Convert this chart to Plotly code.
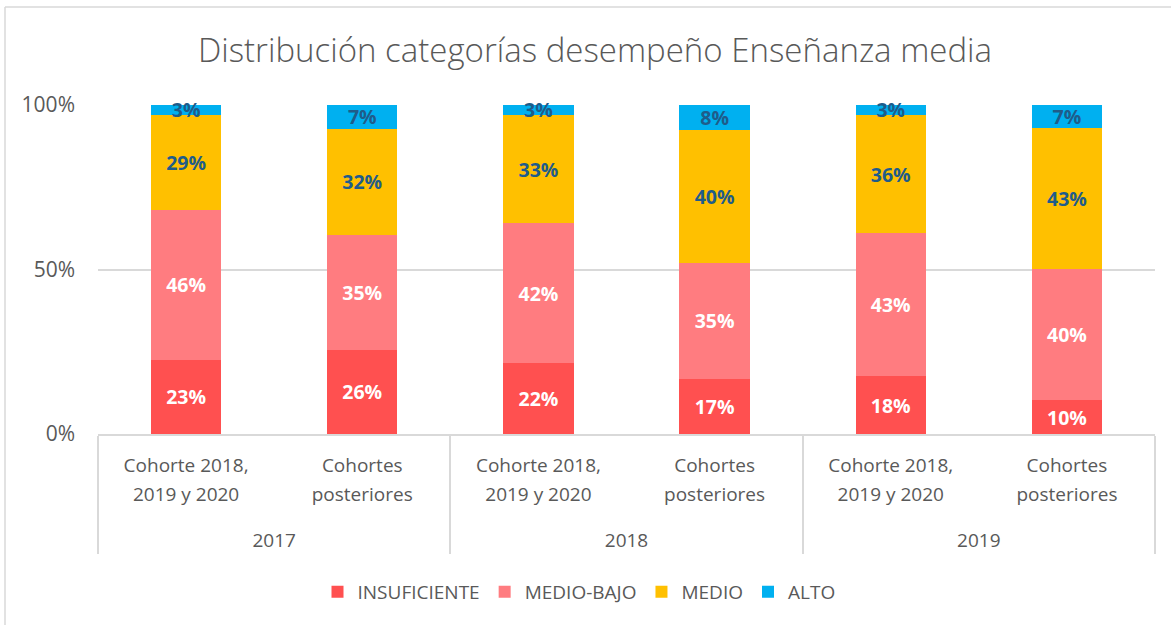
import plotly.graph_objects as go

years = ["2017", "2017", "2018", "2018", "2019", "2019"]
cohort_a = "Cohorte 2018,<br>2019 y 2020"
cohort_b = "Cohortes<br>posteriores"
cohorts = [cohort_a, cohort_b] * 3

insuficiente = [22.6, 25.6, 21.6, 16.7, 17.6, 10.3]
medio_bajo = [45.6, 34.8, 42.4, 35.4, 43.4, 39.9]
medio = [28.8, 32.4, 33.0, 40.3, 36.0, 42.8]
alto = [3.0, 7.2, 3.0, 7.6, 3.0, 7.0]

series = [
    ("INSUFICIENTE", insuficiente, "#FF5050", "white"),
    ("MEDIO-BAJO", medio_bajo, "#FF7C80", "white"),
    ("MEDIO", medio, "#FFC000", "#1F5C8A"),
    ("ALTO", alto, "#00B0F0", "#1F5C8A"),
]

FONT = "Open Sans"
GREY = "#595959"


def small(t):
    # keep glyphs at 19px while the axis font (22px) sets the line spacing
    lines = t.split("<br>")
    return "<br>".join('<span style="font-size:19px">%s</span>' % l for l in lines) + "<br>&nbsp;"


x_outer = ['<span style="font-size:19px">%s</span>' % y for y in years]
x_inner = [small(c) for c in cohorts]

fig = go.Figure()
for name, vals, color, tcol in series:
    fig.add_trace(go.Bar(
        x=[x_outer, x_inner], y=vals, name=name,
        marker=dict(color=color, line=dict(width=0)),
        texttemplate="<b>%{y:.0f}%</b>", textposition="inside",
        insidetextanchor="middle",
        textfont=dict(color=tcol, size=19.5, family=FONT),
        cliponaxis=False,
    ))

fig.update_layout(
    barmode="stack", bargap=0.6,
    width=1171, height=625,
    margin=dict(l=98, r=16, t=105, b=191, autoexpand=False),
    paper_bgcolor="white", plot_bgcolor="white",
    font=dict(family=FONT, color=GREY),
    uniformtext=dict(minsize=19.5, mode="show"),
    title=dict(text="Distribución categorías desempeño Enseñanza media",
               x=595 / 1171, xref="container", xanchor="center",
               y=1 - 50 / 625, yanchor="middle",
               font=dict(size=33, color=GREY, family=FONT, weight=300)),
    legend=dict(orientation="h", x=(579 - 98) / 1057, xanchor="center",
                y=(434 - 592) / 329, yanchor="middle",
                font=dict(size=19, color=GREY, family=FONT),
                traceorder="normal"),
    showlegend=True,
)
fig.update_yaxes(range=[0, 100], tickvals=[0, 50, 100],
                 ticktext=["0%", "50%", "100%"],
                 tickfont=dict(size=21, color=GREY, family=FONT),
                 showgrid=True, gridcolor="#D9D9D9", gridwidth=1.5,
                 zeroline=False, showline=False, ticks="",
                 ticklabelstandoff=22, automargin=False)
fig.update_xaxes(type="multicategory",
                 tickfont=dict(size=22, color=GREY, family=FONT),
                 showline=True, linecolor="#D9D9D9", linewidth=1.5,
                 showdividers=True, dividercolor="#D9D9D9", dividerwidth=1.5,
                 ticks="", ticklabelstandoff=10, automargin=False)

# chart-area border (top and left visible in the reference)
fig.add_shape(type="line", xref="paper", yref="paper",
              x0=(5 - 98) / 1057, x1=1.2, y0=(434 - 7) / 329, y1=(434 - 7) / 329,
              line=dict(color="#D9D9D9", width=1.5))
fig.add_shape(type="line", xref="paper", yref="paper",
              x0=(5 - 98) / 1057, x1=(5 - 98) / 1057, y0=(434 - 7) / 329, y1=-0.7,
              line=dict(color="#D9D9D9", width=1.5))

fig.write_html("out.html", config={"displayModeBar": False},
               post_script="document.body.style.margin='0';document.body.style.padding='0';")
